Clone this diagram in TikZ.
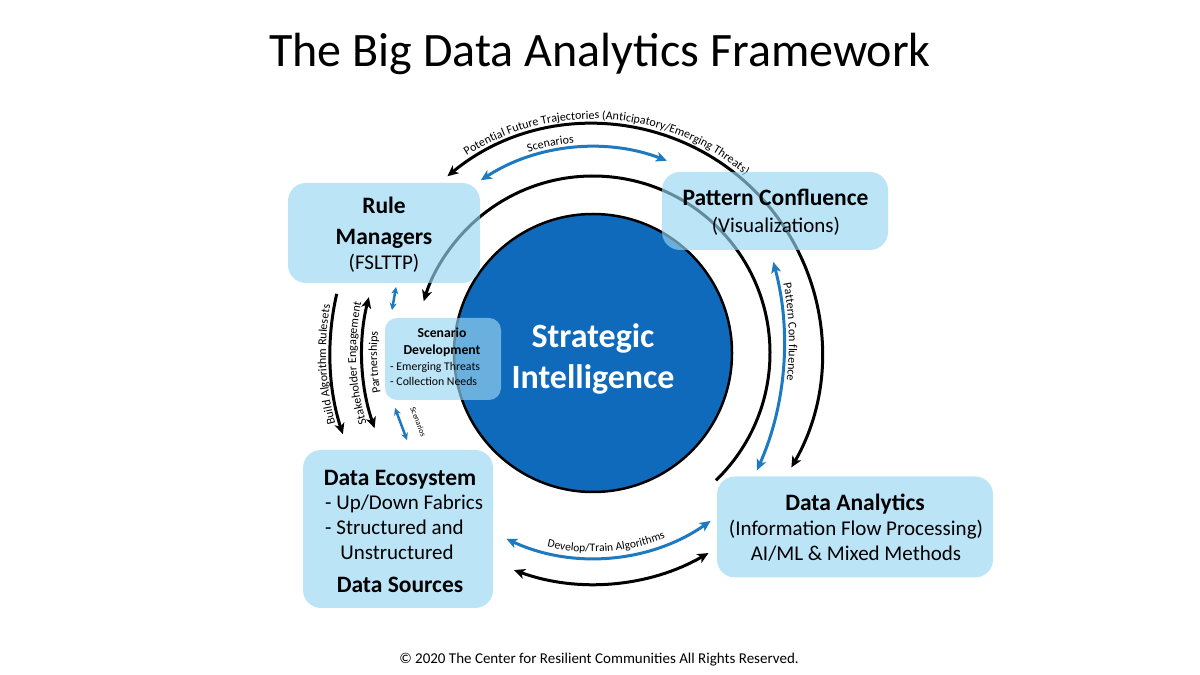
\documentclass[tikz,border=0pt]{standalone}
\usepackage{fontspec}
\setmainfont{Carlito}
\usetikzlibrary{arrows.meta,calc,decorations.text}
\definecolor{boxblue}{RGB}{153,215,243}
\definecolor{coreblue}{RGB}{16,106,188}
\definecolor{arcblue}{RGB}{30,122,192}
\begin{document}
\begin{tikzpicture}[x=1pt,y=1pt,
  >={Stealth[length=11pt,width=10pt,inset=3pt]},
  blackarc/.style={draw=black,line width=3pt},
  bluearc/.style={draw=arcblue,line width=3pt},
  box/.style={rounded corners=18pt,fill=boxblue,fill opacity=0.65,inner sep=0pt},
  lbl/.style={inner sep=0pt,font=\fontsize{#1}{#1}\selectfont,text height={0.64*#1pt},text depth=0pt},
  blbl/.style={lbl=#1,font=\fontsize{#1}{#1}\selectfont\bfseries},
  smallarr/.style={draw=arcblue,line width=2.5pt,{Stealth[length=7pt,width=7pt,inset=2pt]}-{Stealth[length=7pt,width=7pt,inset=2pt]}}
]
\useasboundingbox (0,0) rectangle (1200,675);
\fill[white] (0,0) rectangle (1200,675);
\coordinate (C) at (593,322);
\coordinate (C2) at (471,332);

% arcs (drawn first, boxes lie over them)
\draw[blackarc,->] ($(C)+(-46:177)$) arc[start angle=-46,end angle=163,radius=177];
\draw[blackarc,<->] ($(C)+(129.5:229)$) arc[start angle=129.5,end angle=-30,radius=229];
\draw[bluearc,<->] ($(C)+(123:206)$) arc[start angle=123,end angle=69,radius=206];
\draw[bluearc,<->] ($(C2)+(15:313)$) arc[start angle=15,end angle=-24,radius=313];
\draw[bluearc,<->] ($(C)+(-115:205)$) arc[start angle=-115,end angle=-55,radius=205];
\draw[blackarc,<->] ($(C)+(-110:231)$) arc[start angle=-110,end angle=-60,radius=231];
\draw[blackarc,->] ($(C)+(167:263)$) arc[start angle=167,end angle=198,radius=263];
\draw[blackarc,<->] ($(C)+(166:231)$) arc[start angle=166,end angle=199,radius=231];

% arc labels
\path[decorate,decoration={text along path,text align=center,
  text={|\fontsize{12}{12}\selectfont|Potential Future Trajectories (Anticipatory/Emerging Threats)}}]
  ($(C)+(132:234)$) arc[start angle=132,end angle=40,radius=234];
\path[decorate,decoration={text along path,text align=center,
  text={|\fontsize{12}{12}\selectfont|Scenarios}}]
  ($(C)+(111:211)$) arc[start angle=111,end angle=92,radius=211];
\path[decorate,decoration={text along path,text align=center,
  text={|\fontsize{12}{12}\selectfont|Pattern Con fluence}}]
  ($(C2)+(14:318)$) arc[start angle=14,end angle=-10,radius=318];
\path[decorate,decoration={text along path,text align=center,
  text={|\fontsize{11.5}{11.5}\selectfont|Develop/Train Algorithms}}]
  ($(C)+(-112:199)$) arc[start angle=-112,end angle=-60,radius=199];
\path[decorate,decoration={text along path,text align=center,
  text={|\fontsize{12}{12}\selectfont|Build Algorithm Rulesets}}]
  ($(C)+(202:267)$) arc[start angle=202,end angle=163,radius=267];
\path[decorate,decoration={text along path,text align=center,
  text={|\fontsize{12}{12}\selectfont|Stakeholder Engagement}}]
  ($(C)+(200:237)$) arc[start angle=200,end angle=165,radius=237];
\path[decorate,decoration={text along path,text align=center,
  text={|\fontsize{12}{12}\selectfont|Partnerships}}]
  ($(C)+(196:216)$) arc[start angle=196,end angle=169,radius=216];

% small blue arrows
\coordinate (sa1) at (396,388);
\coordinate (sa2) at (392,365);
\coordinate (sb1) at (395,267);
\coordinate (sb2) at (407,235);
\draw[smallarr] (sa1) -- (sa2);
\draw[smallarr] (sb1) -- (sb2);
\node[lbl=8,rotate=-69] (scn) at (418,253) {Scenarios};

% core circle
\node[circle,minimum size=278pt,inner sep=0pt,fill=coreblue,draw=black,line width=2.5pt] (core) at (C) {};
\node[blbl=34,text=white] (si1) at (593,338) {Strategic};
\node[blbl=34,text=white] (si2) at (593,297) {Intelligence};

% boxes
\node[box,minimum width=192pt,minimum height=100pt] (rm) at (384,442) {};
\node[box,minimum width=226pt,minimum height=78pt] (pc) at (775,464) {};
\node[box,rounded corners=12pt,minimum width=116pt,minimum height=82pt] (sd) at (443,316) {};
\node[box,minimum width=190pt,minimum height=158pt] (de) at (398,146) {};
\node[box,minimum width=276pt,minimum height=101pt] (da) at (855,148) {};

% box texts
\node[blbl=23.5] (rm1) at (384,469) {Rule};
\node[blbl=23.5] (rm2) at (384,438) {Managers};
\node[lbl=21] (rm3) at (384,412) {(FSLTTP)};

\node[blbl=23.5] (pc1) at (775.5,477.5) {Pattern Confluence};
\node[lbl=21] (pc2) at (776,449) {(Visualizations)};

\node[blbl=13.7] (sd1) at (442,342) {Scenario};
\node[blbl=13.7] (sd2) at (442,325) {Development};
\node[lbl=11.8,anchor=west] (sd3) at (390,308.5) {- Emerging Threats};
\node[lbl=11.8,anchor=west] (sd4) at (390,293.5) {- Collection Needs};

\node[blbl=23.5] (de1) at (400,197.5) {Data Ecosystem};
\node[lbl=21,anchor=west] (de2) at (325,172.5) {- Up/Down Fabrics};
\node[lbl=21,anchor=west] (de3) at (325,147) {- Structured and};
\node[lbl=21] (de4) at (397,122) {Unstructured};
\node[blbl=23.5] (de5) at (400,90.5) {Data Sources};

\node[blbl=23.5] (da1) at (855,172.5) {Data Analytics};
\node[lbl=21] (da2) at (856,146) {(Information Flow Processing)};
\node[lbl=21] (da3) at (856,121) {AI/ML \& Mixed Methods};

% title and footer
\node[lbl=48] (title) at (600,624) {The Big Data Analytics Framework};
\node[lbl=15] (copy) at (599,16) {© 2020 The Center for Resilient Communities All Rights Reserved.};
\end{tikzpicture}
\end{document}
